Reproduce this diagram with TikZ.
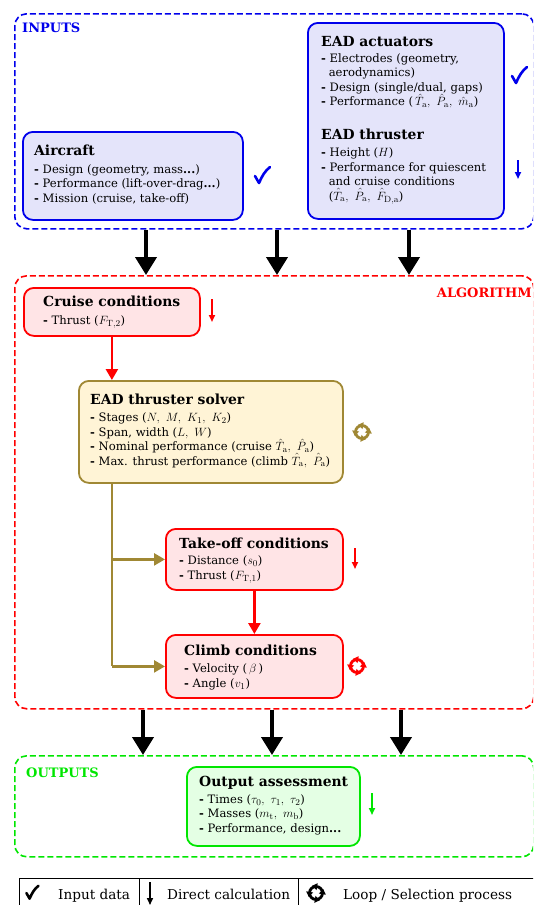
\documentclass[tikz,border=0pt]{standalone}
\usepackage{amssymb}
\usepackage[no-math]{fontspec}
\setmainfont{DejaVu Serif}
\newfontfamily\symf{DejaVu Sans}
\usetikzlibrary{arrows.meta}
\definecolor{cblue}{RGB}{0,0,235}
\definecolor{fblue}{RGB}{228,228,250}
\definecolor{cred}{RGB}{255,0,0}
\definecolor{fred}{RGB}{255,228,230}
\definecolor{cgreen}{RGB}{0,230,0}
\definecolor{fgreen}{RGB}{228,255,228}
\definecolor{colive}{RGB}{160,136,52}
\definecolor{folive}{RGB}{255,244,214}
\newcommand\ttl[1]{{\fontsize{13.9}{15}\selectfont\bfseries #1}}
\newcommand\dsh{\textbf{-} }
\newcommand\mth[1]{{\fontsize{12.6}{14.5}\selectfont$#1$}}
\begin{document}
\begin{tikzpicture}[x=1pt,y=-1pt,
  grp/.style={draw, dash pattern=on 6pt off 3pt, line width=1.6pt, rounded corners=12pt, anchor=north west, inner sep=0},
  box/.style={draw, line width=1.8pt, rounded corners=10pt, anchor=north west, inner sep=0},
  txt/.style={anchor=base west, align=left, inner sep=0, font=\fontsize{11.6}{14.5}\selectfont},
  glabel/.style={inner sep=0, font=\fontsize{13}{15}\selectfont\bfseries},
  bigarr/.style={line width=4pt, -{Triangle[width=21pt,length=18pt]}},
  flowarr/.style={line width=2.5pt, -{Triangle[width=12pt,length=11pt]}},
  smallarr/.style={line width=1.8pt, -{Triangle[width=6pt,length=7pt]}},
  lgd/.style={anchor=base west, inner sep=0, font=\fontsize{13.6}{15}\selectfont},
  loopic/.pic={
    \draw[line width=2.8pt] (0,0) circle[radius=6.5];
    \foreach \a in {80,170,260,350}{\fill[rotate=\a] (3,0) -- (10,0) -- (6.5,-5) -- cycle;}
  },
  checkic/.pic={
    \draw[line width=2.6pt, line cap=round, line join=round] (-7,0) -- (-3,7) .. controls (0,0) and (3,-5) .. (8,-9);
  }
]
\path[use as bounding box] (0,0) rectangle (533,905);
\clip (0,0) rectangle (533,905);

% group boxes
\node[grp, draw=cblue, minimum width=519, minimum height=215] (inputs) at (14,13) {};
\node[grp, draw=cred, minimum width=519, minimum height=433] (algo) at (14,275) {};
\node[grp, draw=cgreen, minimum width=519, minimum height=101] (outputs) at (14,755) {};
\node[glabel, text=cblue, anchor=base west] (inputsL) at (22,32.5) {INPUTS};
\node[glabel, text=cred, anchor=base east] (algoL) at (532,297) {ALGORITHM};
\node[glabel, text=cgreen, anchor=base west] (outputsL) at (26,777) {OUTPUTS};

% boxes
\node[box, draw=cblue, fill=fblue, minimum width=220, minimum height=88] (aircraft) at (22,131) {};
\node[box, draw=cblue, fill=fblue, minimum width=196, minimum height=196] (ead) at (307,22) {};
\node[box, draw=cred, fill=fred, minimum width=176, minimum height=48] (cruise) at (23,287) {};
\node[box, draw=colive, fill=folive, minimum width=264, minimum height=102] (solver) at (78,380) {};
\node[box, draw=cred, fill=fred, minimum width=177, minimum height=61] (takeoff) at (165,528) {};
\node[box, draw=cred, fill=fred, minimum width=177, minimum height=63] (climb) at (165,634) {};
\node[box, draw=cgreen, fill=fgreen, minimum width=173, minimum height=79] (output) at (186,766) {};

% texts (anchored at the baseline of the last line)
\node[txt] (aircraftT) at (34,202) {\ttl{Aircraft}\\[3.5pt]
  \dsh Design (geometry, mass\textbf{...})\\
  \dsh Performance (lift-over-drag\textbf{...})\\
  \dsh Mission (cruise, take-off)};
\node[txt] (eadT) at (321,200) {\ttl{EAD actuators}\\[1.8pt]
  \dsh Electrodes (geometry,\\
  \phantom{- }aerodynamics)\\
  \dsh Design (single/dual, gaps)\\
  \dsh Performance (\,\mth{\hat{T}_\mathrm{a},\ \hat{P}_\mathrm{a},\ \hat{m}_\mathrm{a}})\\[18.8pt]
  \ttl{EAD thruster}\\[2.8pt]
  \dsh Height (\mth{H})\\
  \dsh Performance for quiescent\\
  \phantom{- }and cruise conditions\\
  \phantom{- }(\mth{\hat{T}_\mathrm{a},\ \hat{P}_\mathrm{a},\ \hat{F}_\mathrm{D,a}})};
\node[txt] (cruiseT) at (43,324) {\ttl{Cruise conditions}\\[2.8pt]
  \dsh Thrust (\mth{F_{\mathrm{T},2}})};
\node[txt] (solverT) at (90,465) {\ttl{EAD thruster solver}\\[2.2pt]
  \dsh Stages (\mth{N,\ M,\ K_1,\ K_2})\\
  \dsh Span, width (\mth{L,\ W})\\
  \dsh Nominal performance (cruise \mth{\hat{T}_\mathrm{a},\ \hat{P}_\mathrm{a}})\\
  \dsh Max. thrust performance (climb \mth{\hat{T}_\mathrm{a},\ \hat{P}_\mathrm{a}})};
\node[txt] (takeoffT) at (179,579.3) {\ttl{Take-off conditions}\\[2.2pt]
  \dsh Distance (\mth{s_0})\\
  \dsh Thrust (\mth{F_{\mathrm{T},1}})};
\node[txt] (climbT) at (184,687.3) {\ttl{Climb conditions}\\[2.8pt]
  \dsh Velocity (\mth{\,\beta\,})\\
  \dsh Angle (\mth{v_1})};
\node[txt] (outputT) at (199,832.3) {\ttl{Output assessment}\\[2.1pt]
  \dsh Times (\mth{\tau_0,\ \tau_1,\ \tau_2})\\
  \dsh Masses (\mth{m_\mathrm{t},\ m_\mathrm{b}})\\
  \dsh Performance, design\textbf{...}};

% big arrows
\coordinate (c1) at (146,0);
\coordinate (c2) at (277,0);
\coordinate (c3) at (409,0);
\coordinate (d1) at (143,0);
\coordinate (d2) at (272,0);
\coordinate (d3) at (401,0);
\foreach \c in {c1,c2,c3}{\draw[bigarr] (inputs.south -| \c) -- (algo.north -| \c);}
\foreach \c in {d1,d2,d3}{\draw[bigarr] (algo.south -| \c) -- (outputs.north -| \c);}

% flow arrows
\draw[flowarr, cred] (cruise.south) -- (cruise.south |- solver.north);
\draw[flowarr, colive, -] (cruise.south |- solver.south) -- (cruise.south |- climb.west);
\draw[flowarr, colive] (cruise.south |- takeoff.west) -- (takeoff.west);
\draw[flowarr, colive] (cruise.south |- climb.west) -- (climb.west);
\draw[flowarr, cred] (takeoff.south) -- (climb.north);

% side markers
\pic[color=cblue] at (262,176) {checkic};
\pic[color=cblue] at (519,76) {checkic};
\coordinate (s1a) at (518,160); \coordinate (s1b) at (518,179);
\draw[smallarr, cblue] (s1a) -- (s1b);
\coordinate (s2a) at (212,299); \coordinate (s2b) at (212,322);
\draw[smallarr, cred] (s2a) -- (s2b);
\coordinate (s3a) at (355,548); \coordinate (s3b) at (355,569);
\draw[smallarr, cred] (s3a) -- (s3b);
\coordinate (s4a) at (372,793); \coordinate (s4b) at (372,815);
\draw[smallarr, cgreen] (s4a) -- (s4b);
\pic[color=colive] at (362,432) {loopic};
\pic[color=cred] at (357,666) {loopic};

% legend
\node[draw, line width=1pt, anchor=north west, inner sep=0, minimum width=530, minimum height=40] (legend) at (19,878) {};
\draw[line width=1pt] (139,878) -- (139,910);
\draw[line width=1pt] (298,878) -- (298,910);
\pic[color=black, scale=0.8] at (32,893) {checkic};
\node[lgd] (l1) at (58,899) {Input data};
\coordinate (la) at (150,882); \coordinate (lb) at (150,905);
\draw[line width=1.5pt, -{Triangle[width=6pt,length=7pt]}] (la) -- (lb);
\node[lgd] (l2) at (167,899) {Direct calculation};
\pic[color=black] at (316,893) {loopic};
\node[lgd] (l3) at (343,899) {Loop / Selection process};
\end{tikzpicture}
\end{document}
